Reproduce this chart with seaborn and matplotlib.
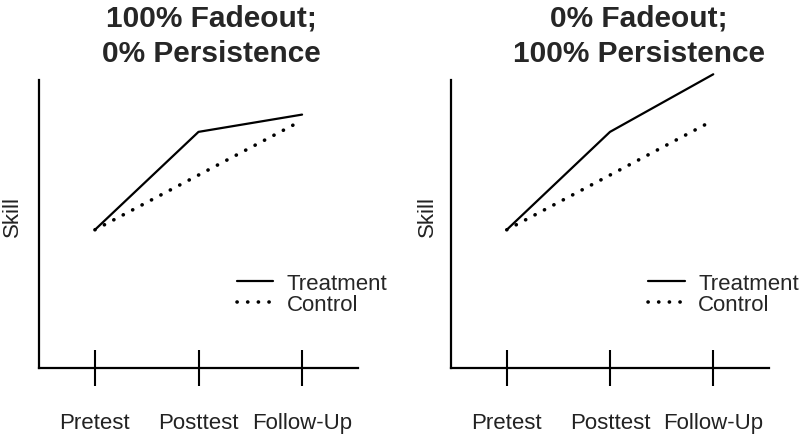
import numpy as np
import pandas as pd
import matplotlib
matplotlib.use("Agg")
import matplotlib.pyplot as plt
import seaborn as sns

sns.set_theme(style="white")
plt.rcParams['font.family'] = ['Liberation Sans', 'DejaVu Sans']

# input data
phases = ["Pretest", "Posttest", "Follow-Up"]
titles = ["100% Fadeout;\n0% Persistence", "0% Fadeout;\n100% Persistence"]
treatment_fade = [48, 82, 88]
treatment_persist = [48, 82, 102]
control = [48, 67, 86]

fig = plt.figure(figsize=(8, 4.35), dpi=100)
axes = [fig.add_axes([0.04875, 0.1517, 0.39875, 0.662]),
        fig.add_axes([0.56375, 0.1517, 0.3975, 0.662])]
title_x = [0.539, 0.591]
ylabel_x = [-0.05, -0.04]

xpos = np.arange(len(phases))
for ax, treat, title, tx, lx in zip(axes, [treatment_fade, treatment_persist],
                                    titles, title_x, ylabel_x):
    df = pd.DataFrame({"Phase": xpos, "Treatment": treat, "Control": control})
    sns.lineplot(data=df, x="Phase", y="Treatment", ax=ax, color="black",
                 lw=1.6, label="Treatment", clip_on=False)
    sns.lineplot(data=df, x="Phase", y="Control", ax=ax, color="black",
                 lw=2.6, dashes=False, label="Control", clip_on=False,
                 linestyle=(0, (0.05, 2.9)), dash_capstyle="round")

    ax.set_xlim(-0.54, 2.54)
    ax.set_ylim(0, 100)
    ax.set_yticks([])
    ax.set_xticks(xpos)
    ax.set_xticklabels(phases, fontsize=16)
    ax.tick_params(axis="x", bottom=True, direction="inout", length=26,
                   width=1.5, color="black", pad=19, labelcolor="#222222")
    for s in ["top", "right"]:
        ax.spines[s].set_visible(False)
    for s in ["left", "bottom"]:
        ax.spines[s].set_color("black")
        ax.spines[s].set_linewidth(1.6)
    ax.set_xlabel("")
    ax.set_ylabel("Skill", fontsize=16, color="#222222")
    ax.yaxis.set_label_coords(lx, 0.53)
    ax.set_title(title, fontsize=21.5, fontweight="bold", x=tx, pad=14,
                 linespacing=1.3)
    ax.legend(loc="upper left", bbox_to_anchor=(0.62, 0.33), frameon=False,
              fontsize=16, handlelength=1.65, handletextpad=0.6,
              labelspacing=0.0, borderpad=0, borderaxespad=0)

fig.savefig("out.png", dpi=100)
